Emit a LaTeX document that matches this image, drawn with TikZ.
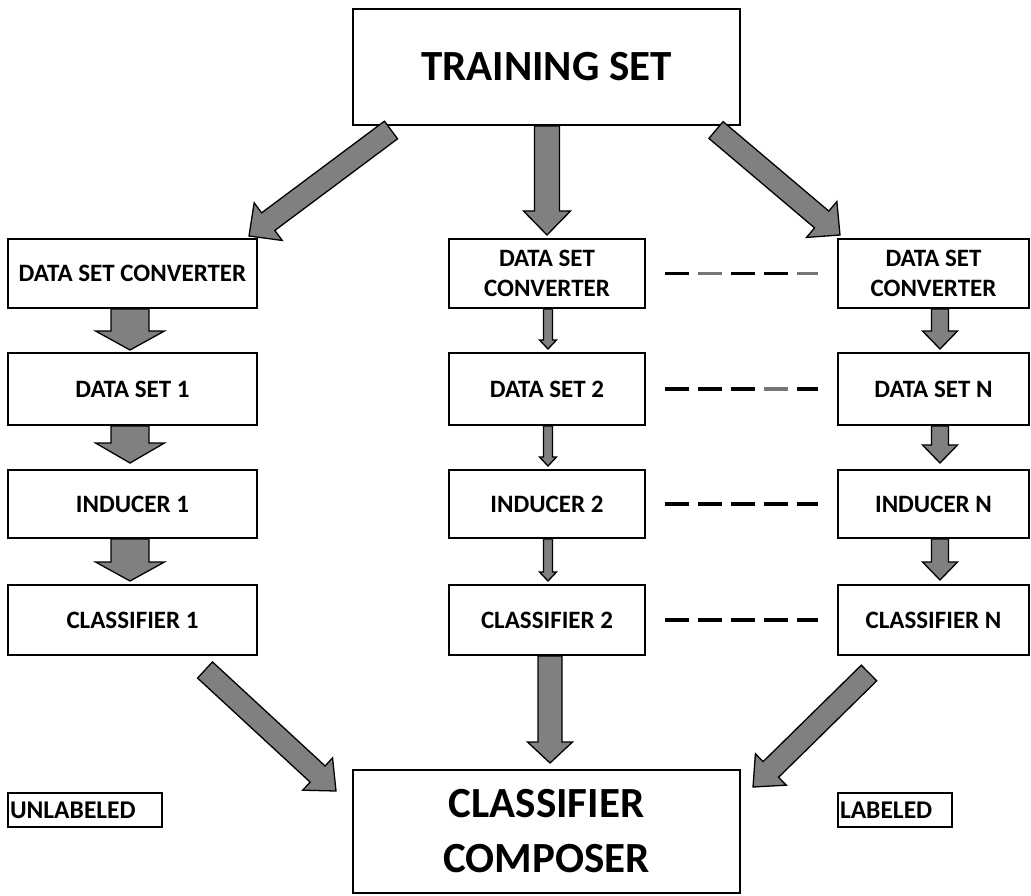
\documentclass[tikz,border=0pt]{standalone}
\usepackage{fontspec}
\setmainfont{Carlito}
\usetikzlibrary{calc}

\definecolor{arrowgrey}{RGB}{128,128,128}
\definecolor{dashgrey}{RGB}{118,118,118}

% Block arrow from tail point #1 to tip point #2:
% #3 = half shaft width, #4 = half head width, #5 = head length
\newcommand\blockarrow[5]{%
  \coordinate (baneck) at ($(#2)!#5!(#1)$);
  \draw[blockarr]
    ($(#1)!#3!90:(#2)$) -- ($(baneck)!#3!90:(#2)$) -- ($(baneck)!#4!90:(#2)$)
    -- (#2)
    -- ($(baneck)!#4!-90:(#2)$) -- ($(baneck)!#3!-90:(#2)$) -- ($(#1)!#3!-90:(#2)$)
    -- cycle;}

\begin{document}
\begin{tikzpicture}[x=1pt,y=-1pt,
  box/.style={draw, line width=2pt, fill=white, inner sep=0pt, align=center,
    font=\bfseries\fontsize{25}{30}\selectfont},
  leftbox/.style={box, minimum width=249pt},
  midbox/.style={box, minimum width=196pt},
  rightbox/.style={box, minimum width=191pt},
  tagbox/.style={draw, line width=1.8pt, inner xsep=2pt, inner ysep=0pt,
    minimum height=34pt, align=left, font=\bfseries\fontsize{25.5}{28}\selectfont},
  blockarr/.style={fill=arrowgrey, draw=black, line width=1.3pt, line join=miter},
  dashline/.style={draw=black, line width=3.5pt, shorten <=19pt, shorten >=19pt,
    dash pattern=on 24pt off 9pt}]

\useasboundingbox (0,0) rectangle (1031,896);
\fill[white] (0,0) rectangle (1031,896);

% top and bottom boxes
\node[box, minimum width=387pt, minimum height=116pt,
  font=\bfseries\fontsize{43}{50}\selectfont] (ts) at (546.5,67) {TRAINING SET};
\node[box, minimum width=387pt, minimum height=123pt,
  font=\bfseries\fontsize{43}{55}\selectfont] (comp) at (546.5,831.5) {CLASSIFIER\\COMPOSER};

% first column
\node[leftbox, minimum height=69pt] (dsc1) at (132.5,273.5) {DATA SET CONVERTER};
\node[leftbox, minimum height=72pt] (ds1)  at (132.5,389)   {DATA SET 1};
\node[leftbox, minimum height=68pt] (ind1) at (132.5,504)   {INDUCER 1};
\node[leftbox, minimum height=70pt] (cls1) at (132.5,620)   {CLASSIFIER 1};

% second column
\node[midbox, minimum height=69pt] (dsc2) at (547,273.5) {DATA SET\\CONVERTER};
\node[midbox, minimum height=72pt] (ds2)  at (547,389)   {DATA SET 2};
\node[midbox, minimum height=68pt] (ind2) at (547,504)   {INDUCER 2};
\node[midbox, minimum height=70pt] (cls2) at (547,620)   {CLASSIFIER 2};

% last column
\node[rightbox, minimum height=69pt] (dsc3) at (933.5,273.5) {DATA SET\\CONVERTER};
\node[rightbox, minimum height=72pt] (ds3)  at (933.5,389)   {DATA SET N};
\node[rightbox, minimum height=68pt] (ind3) at (933.5,504)   {INDUCER N};
\node[rightbox, minimum height=70pt] (cls3) at (933.5,620)   {CLASSIFIER N};

% legend tags
\node[tagbox, text width=150pt] (unl) at (85,810)  {UNLABELED};
\node[tagbox, text width=110pt] (lab) at (895,810) {LABELED};

% dashed links between the second and last columns
\draw[dashline] (dsc2.east) -- (dsc3.west);
\draw[dashline, draw=dashgrey, dash pattern=on 24pt off 75pt, dash phase=66pt] (dsc2.east) -- (dsc3.west);
\draw[dashline] (ds2.east) -- (ds3.west);
\draw[dashline, draw=dashgrey, dash pattern=on 24pt off 200pt, dash phase=125pt] (ds2.east) -- (ds3.west);
\draw[dashline] (ind2.east) -- (ind3.west);
\draw[dashline] (cls2.east) -- (cls3.west);

% arrows out of the training set
\coordinate (t1a) at ($(ts.south west)+(39,4)$);
\coordinate (t1b) at ($(dsc1.north east)+(-9,-2)$);
\blockarrow{t1a}{t1b}{11pt}{23.5pt}{24pt}
\coordinate (t2a) at ($(ts.south)+(0.5,0)$);
\coordinate (t2b) at ($(dsc2.north)+(0,-3)$);
\blockarrow{t2a}{t2b}{12.5pt}{23.5pt}{24pt}
\coordinate (t3a) at ($(ts.south east)+(-25,4)$);
\coordinate (t3b) at ($(dsc3.north west)+(3,-3)$);
\blockarrow{t3a}{t3b}{11pt}{23.5pt}{24pt}

% first column arrows
\coordinate (l1a) at ($(dsc1.south)+(-2.5,0)$);
\coordinate (l1b) at ($(ds1.north)+(-2.5,-2)$);
\blockarrow{l1a}{l1b}{19pt}{34.5pt}{19pt}
\coordinate (l2a) at ($(ds1.south)+(-2.5,0)$);
\coordinate (l2b) at ($(ind1.north)+(-2.5,-6)$);
\blockarrow{l2a}{l2b}{19pt}{34.5pt}{20pt}
\coordinate (l3a) at ($(ind1.south)+(-2.5,0)$);
\coordinate (l3b) at ($(cls1.north)+(-2.5,-3)$);
\blockarrow{l3a}{l3b}{19pt}{34.5pt}{19pt}

% second column arrows
\coordinate (m1a) at ($(dsc2.south)+(1,0)$);
\coordinate (m1b) at ($(ds2.north)+(1,-3)$);
\blockarrow{m1a}{m1b}{4.5pt}{8.5pt}{9pt}
\coordinate (m2a) at ($(ds2.south)+(1,0)$);
\coordinate (m2b) at ($(ind2.north)+(1,-3)$);
\blockarrow{m2a}{m2b}{4.5pt}{8.5pt}{9pt}
\coordinate (m3a) at ($(ind2.south)+(1,0)$);
\coordinate (m3b) at ($(cls2.north)+(1,-3)$);
\blockarrow{m3a}{m3b}{4.5pt}{8.5pt}{9pt}

% last column arrows
\coordinate (r1a) at ($(dsc3.south)+(6.5,0)$);
\coordinate (r1b) at ($(ds3.north)+(6.5,-3)$);
\blockarrow{r1a}{r1b}{8.5pt}{17.5pt}{18pt}
\coordinate (r2a) at ($(ds3.south)+(6.5,0)$);
\coordinate (r2b) at ($(ind3.north)+(6.5,-6)$);
\blockarrow{r2a}{r2b}{8.5pt}{17.5pt}{18pt}
\coordinate (r3a) at ($(ind3.south)+(6.5,0)$);
\coordinate (r3b) at ($(cls3.north)+(6.5,-4)$);
\blockarrow{r3a}{r3b}{8.5pt}{17.5pt}{18pt}

% arrows into the classifier composer
\coordinate (b1a) at ($(cls1.south east)+(-53,14)$);
\coordinate (b1b) at ($(comp.north west)+(-16,22)$);
\blockarrow{b1a}{b1b}{11pt}{22pt}{25pt}
\coordinate (b2a) at ($(cls2.south)+(3,0)$);
\coordinate (b2b) at ($(comp.north)+(3.5,-6)$);
\blockarrow{b2a}{b2b}{12pt}{22.5pt}{21pt}
\coordinate (b3a) at ($(cls3.south west)+(32,17)$);
\coordinate (b3b) at ($(comp.north east)+(12,18)$);
\blockarrow{b3a}{b3b}{11pt}{22pt}{25pt}

\end{tikzpicture}
\end{document}
